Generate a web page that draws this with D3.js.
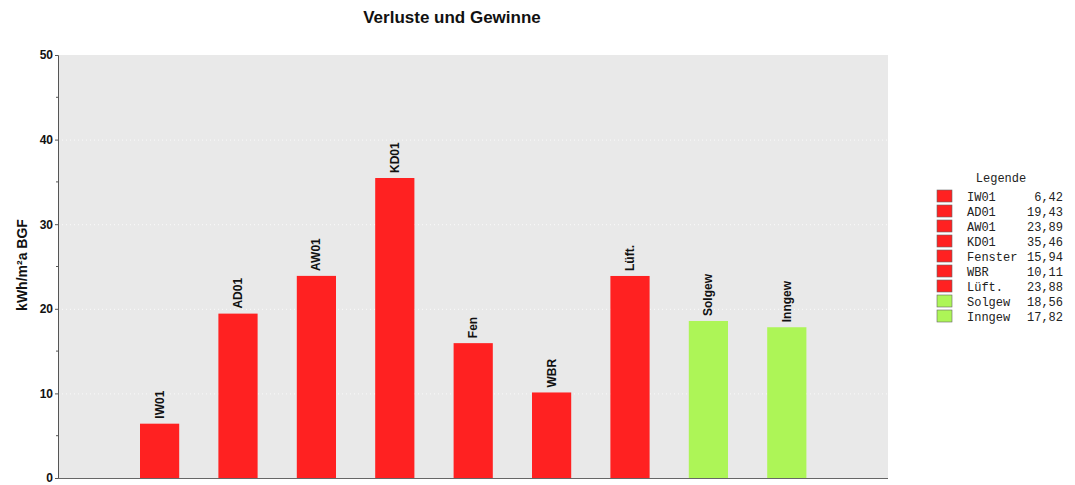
<!DOCTYPE html>
<html>
<head>
<meta charset="utf-8">
<script src="https://cdn.jsdelivr.net/npm/d3@7"></script>
<style>
  body { margin: 0; background: #fff; }
  svg { display: block; }
</style>
</head>
<body>
<svg id="chart" width="1075" height="485"></svg>
<script>
// data
const categories = ["IW01", "AD01", "AW01", "KD01", "Fen", "WBR", "Lüft.", "Solgew", "Inngew"];
const values = [6.42, 19.43, 23.89, 35.46, 15.94, 10.11, 23.88, 18.56, 17.82];
const kinds = ["loss", "loss", "loss", "loss", "loss", "loss", "loss", "gain", "gain"];
const legendNames = ["IW01", "AD01", "AW01", "KD01", "Fenster", "WBR", "Lüft.", "Solgew", "Inngew"];
const yTicks = [0, 10, 20, 30, 40, 50];

const width = 1075, height = 485;
const plot = { left: 58, right: 888, top: 55, bottom: 478 };
const svg = d3.select("#chart");

const color = d3.scaleOrdinal().domain(["loss", "gain"]).range(["#ff2121", "#adf557"]);

const x = d3.scaleBand()
  .domain(categories)
  .range([100.8, 845.6])
  .padding(0.5);

const y = d3.scaleLinear()
  .domain([0, 50])
  .range([plot.bottom, plot.top]);

// plot background
svg.append("rect")
  .attr("x", plot.left)
  .attr("y", plot.top)
  .attr("width", plot.right - plot.left)
  .attr("height", plot.bottom - plot.top)
  .attr("fill", "#e9e9e9");

// grid
svg.append("g")
  .selectAll("line")
  .data(yTicks.filter(d => d > 0 && d < 50))
  .join("line")
  .attr("x1", plot.left)
  .attr("x2", plot.right)
  .attr("y1", d => y(d) + 0.5)
  .attr("y2", d => y(d) + 0.5)
  .attr("stroke", "#fafafa")
  .attr("stroke-dasharray", "1,3");

// bars
svg.append("g")
  .selectAll("rect")
  .data(values)
  .join("rect")
  .attr("x", (d, i) => x(categories[i]))
  .attr("y", d => y(d))
  .attr("width", x.bandwidth())
  .attr("height", d => y(0) - y(d))
  .attr("fill", (d, i) => color(kinds[i]));

// bar labels
svg.append("g")
  .selectAll("text")
  .data(values)
  .join("text")
  .attr("transform", (d, i) => `translate(${x(categories[i]) + x.bandwidth() / 2 + 4},${y(d) - 5}) rotate(-90)`)
  .attr("font-family", "Liberation Sans, Arial, sans-serif")
  .attr("font-size", 12)
  .attr("font-weight", "bold")
  .attr("fill", "#111")
  .text((d, i) => categories[i]);

// y axis
const yAxis = svg.append("g")
  .attr("transform", `translate(${plot.left},0)`)
  .call(d3.axisLeft(y).tickValues(yTicks).tickSize(3).tickPadding(2));
yAxis.select(".domain").attr("stroke", "#555");
yAxis.selectAll(".tick line").attr("stroke", "#555");
yAxis.selectAll("text")
  .attr("font-family", "Liberation Sans, Arial, sans-serif")
  .attr("font-size", 12)
  .attr("font-weight", "bold")
  .attr("fill", "#111");

// minor ticks
svg.append("g")
  .selectAll("line")
  .data(d3.range(5, 50, 10))
  .join("line")
  .attr("x1", plot.left - 2)
  .attr("x2", plot.left)
  .attr("y1", d => y(d))
  .attr("y2", d => y(d))
  .attr("stroke", "#555");

// x axis line
svg.append("line")
  .attr("x1", plot.left)
  .attr("x2", plot.right)
  .attr("y1", plot.bottom + 0.5)
  .attr("y2", plot.bottom + 0.5)
  .attr("stroke", "#666");

// title
svg.append("text")
  .attr("x", 452)
  .attr("y", 23)
  .attr("text-anchor", "middle")
  .attr("font-family", "Liberation Sans, Arial, sans-serif")
  .attr("font-size", 17)
  .attr("font-weight", "bold")
  .attr("fill", "#111")
  .text("Verluste und Gewinne");

// y label
svg.append("text")
  .attr("transform", `translate(27,265) rotate(-90)`)
  .attr("text-anchor", "middle")
  .attr("font-family", "Liberation Sans, Arial, sans-serif")
  .attr("font-size", 14)
  .attr("font-weight", "bold")
  .attr("fill", "#111")
  .text("kWh/m²a BGF");

// legend
const legend = svg.append("g")
  .attr("font-family", "Liberation Mono, Courier New, monospace")
  .attr("font-size", 12)
  .attr("fill", "#222");

legend.append("text")
  .attr("x", 1001)
  .attr("y", 182)
  .attr("text-anchor", "middle")
  .text("Legende");

const rows = legend.selectAll("g.row")
  .data(values)
  .join("g")
  .attr("class", "row")
  .attr("transform", (d, i) => `translate(0,${197 + i * 15})`);

rows.append("rect")
  .attr("x", 937)
  .attr("y", -7)
  .attr("width", 15)
  .attr("height", 12)
  .attr("fill", (d, i) => color(kinds[i]))
  .attr("stroke", "#666")
  .attr("stroke-width", 0.6);

rows.append("text")
  .attr("x", 967)
  .attr("y", 4)
  .text((d, i) => legendNames[i]);

rows.append("text")
  .attr("x", 1063)
  .attr("y", 4)
  .attr("text-anchor", "end")
  .text(d => d3.format(".2f")(d).replace(".", ","));
</script>
</body>
</html>
